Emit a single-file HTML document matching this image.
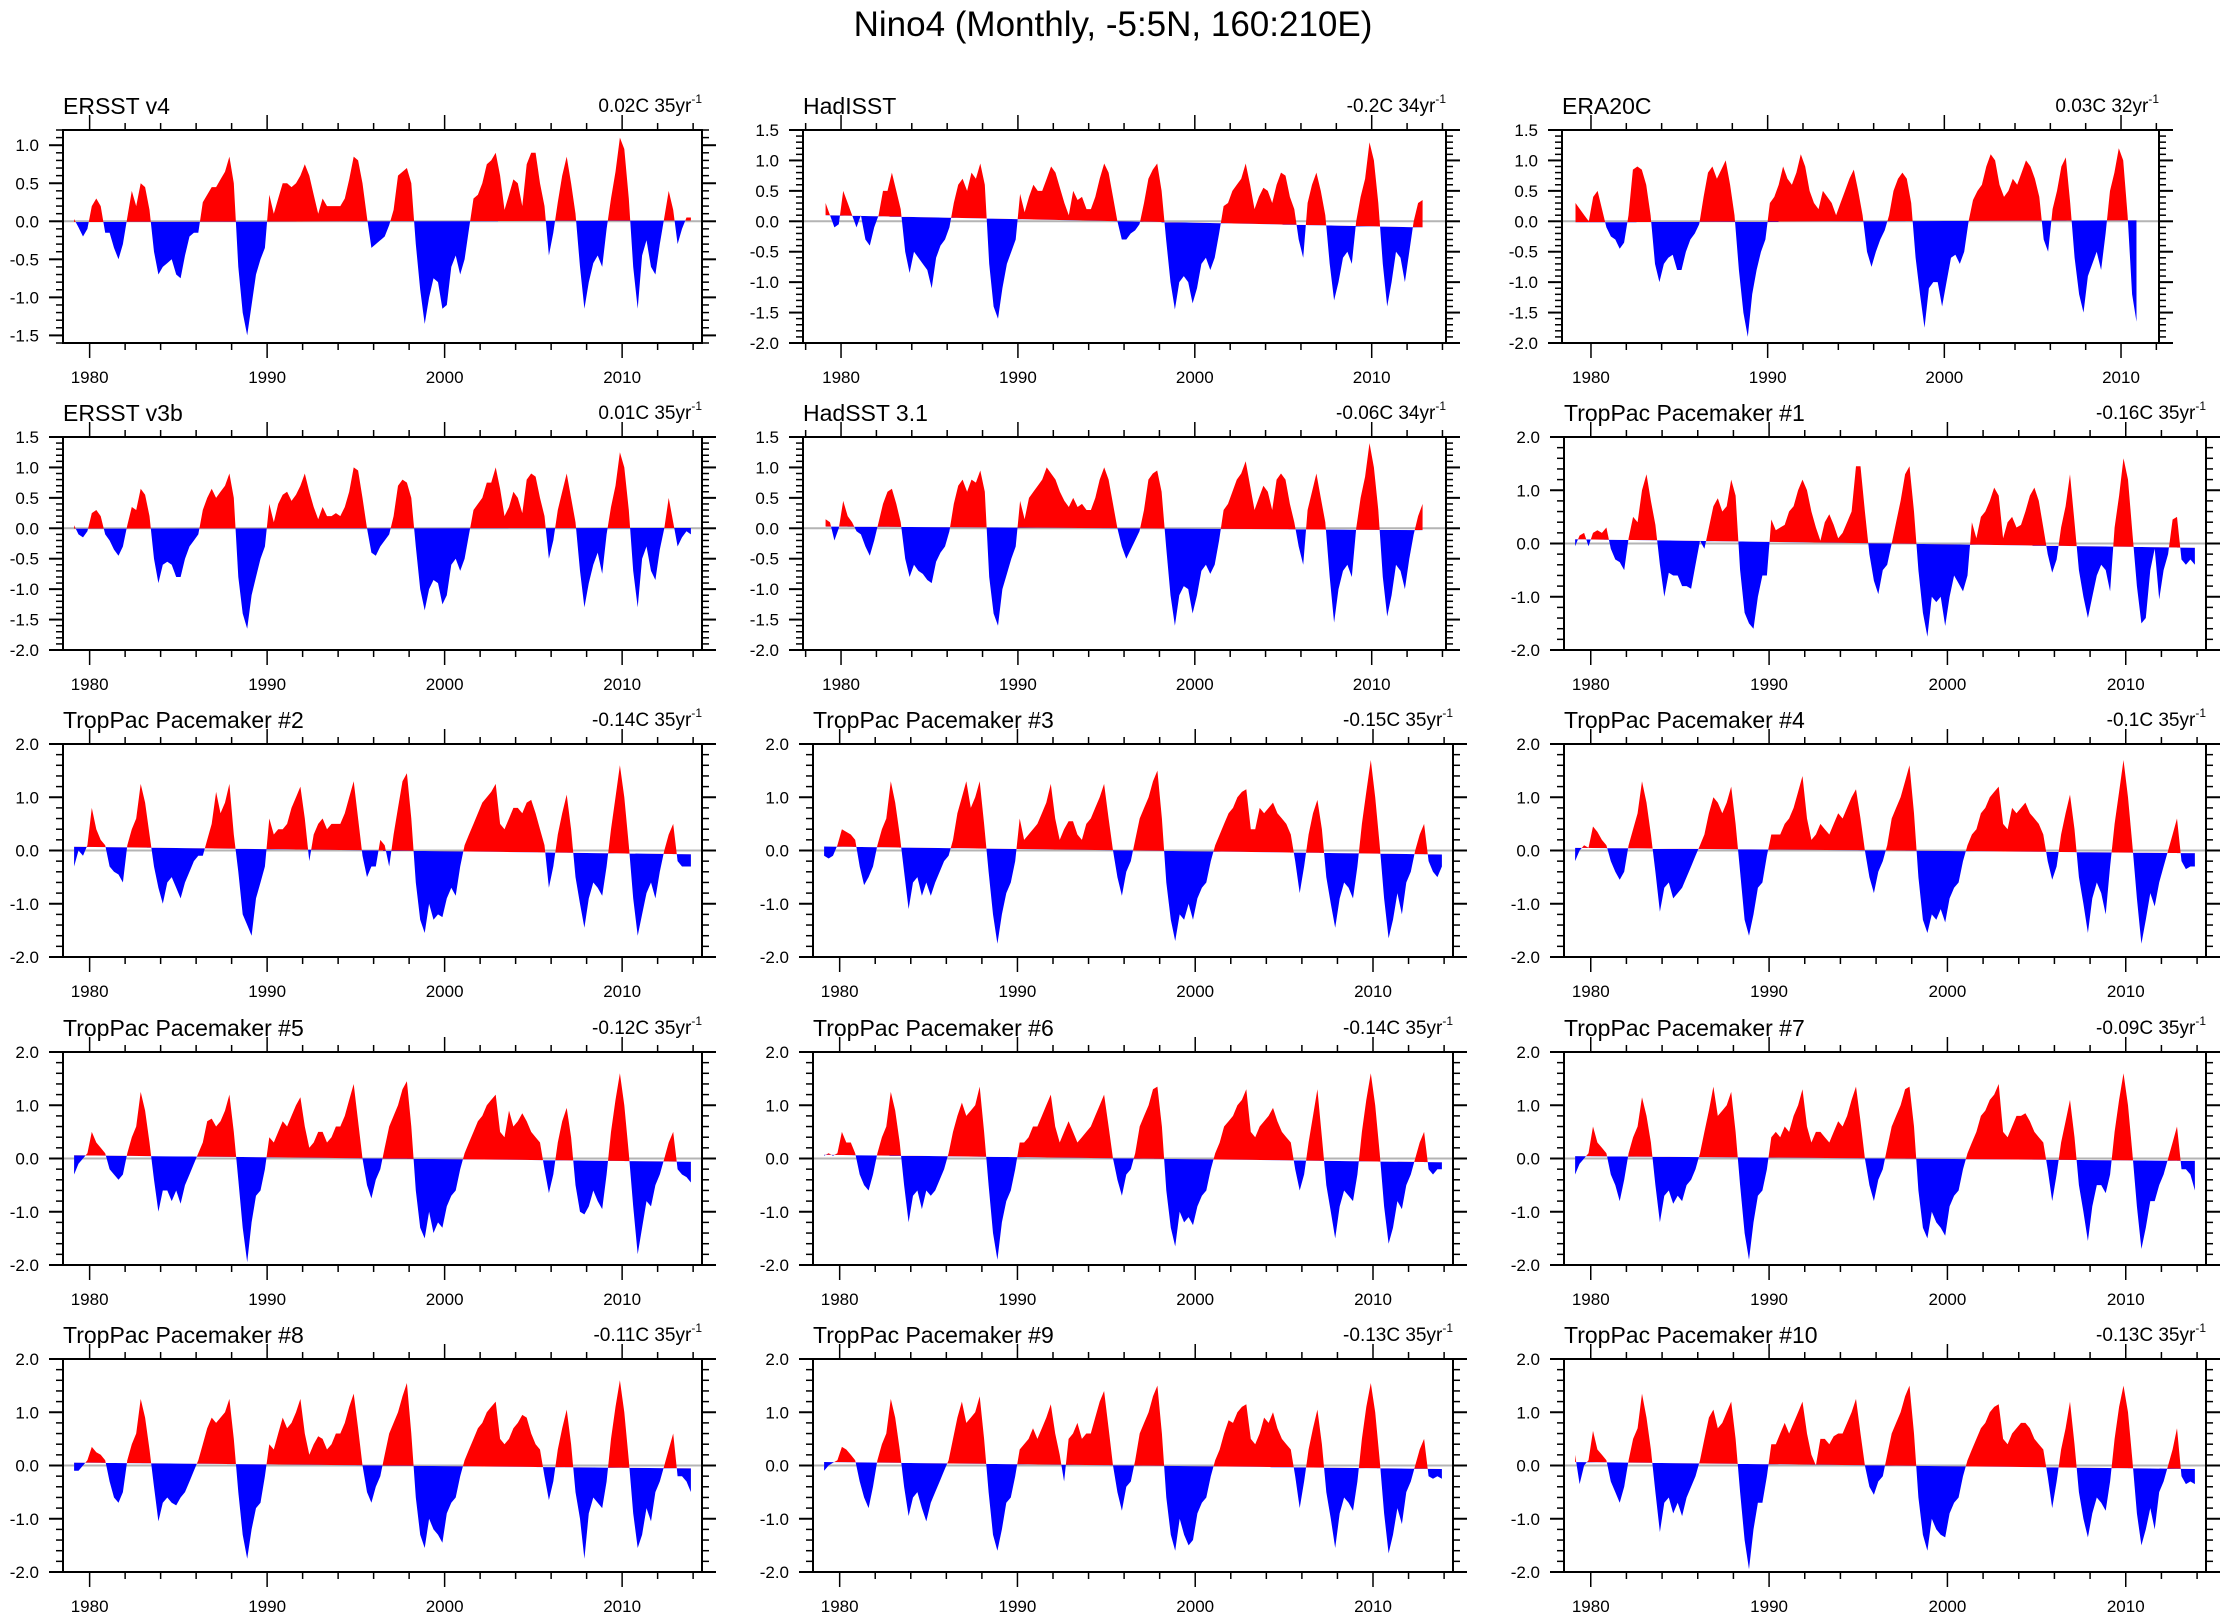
<!DOCTYPE html>
<html><head><meta charset="utf-8"><title>Nino4 Monthly</title>
<style>
html,body{margin:0;padding:0;background:#fff;}
svg{display:block;font-family:"Liberation Sans",Arial,sans-serif;}
</style></head>
<body>
<svg id="fig" width="2226" height="1620" viewBox="0 0 2226 1620" xmlns="http://www.w3.org/2000/svg">
<rect x="0" y="0" width="2226" height="1620" fill="#fff"/>
<text x="1113" y="36" font-size="35" text-anchor="middle" fill="#000">Nino4 (Monthly, -5:5N, 160:210E)</text>
</svg>
<script>
// ---- data (quarterly estimates) ----
const ersstV4 = [0.03,-0.08,-0.2,-0.1, 0.2,0.3,0.2,-0.15, -0.15,-0.35,-0.5,-0.3, 0.05,0.4,0.2,0.5, 0.45,0.15,-0.4,-0.7, -0.6,-0.55,-0.5,-0.7, -0.75,-0.45,-0.2,-0.15, -0.15,0.25,0.35,0.45, 0.45,0.55,0.65,0.85, 0.5,-0.6,-1.2,-1.5, -1.1,-0.7,-0.5,-0.35, 0.35,0.1,0.3,0.5, 0.5,0.45,0.5,0.6, 0.75,0.6,0.35,0.1, 0.3,0.2,0.2,0.2, 0.2,0.3,0.55,0.85, 0.8,0.5,0.05,-0.35, -0.3,-0.25,-0.2,-0.05, 0.15,0.6,0.65,0.7, 0.5,-0.3,-0.9,-1.35, -1.0,-0.75,-0.8,-1.15, -1.1,-0.6,-0.45,-0.7, -0.5,-0.1,0.3,0.35, 0.5,0.75,0.8,0.9, 0.6,0.15,0.35,0.55, 0.5,0.2,0.75,0.9, 0.9,0.5,0.2,-0.45, -0.15,0.25,0.6,0.85, 0.5,0.1,-0.6,-1.15, -0.8,-0.55,-0.45,-0.6, -0.1,0.3,0.65,1.1, 0.95,0.3,-0.6,-1.15, -0.45,-0.25,-0.6,-0.7, -0.3,0.05,0.4,0.15, -0.3,-0.1,0.05,0.05];
const hadisst = [0.3,0.1,-0.1,-0.05, 0.5,0.3,0.1,-0.1, 0.1,-0.3,-0.4,-0.1, 0.1,0.5,0.5,0.8, 0.5,0.2,-0.5,-0.85, -0.5,-0.6,-0.7,-0.8, -1.1,-0.6,-0.4,-0.3, -0.1,0.3,0.6,0.7, 0.5,0.8,0.7,0.95, 0.6,-0.7,-1.4,-1.6, -1.1,-0.7,-0.5,-0.3, 0.45,0.15,0.4,0.6, 0.5,0.5,0.7,0.9, 0.8,0.55,0.3,0.1, 0.5,0.35,0.4,0.2, 0.2,0.4,0.7,0.95, 0.8,0.4,0.0,-0.3, -0.3,-0.2,-0.15,-0.05, 0.3,0.7,0.85,0.95, 0.5,-0.3,-1.0,-1.45, -1.0,-0.9,-1.0,-1.35, -1.1,-0.7,-0.6,-0.8, -0.6,-0.2,0.25,0.3, 0.5,0.6,0.7,0.95, 0.6,0.2,0.4,0.55, 0.5,0.3,0.6,0.8, 0.75,0.4,0.2,-0.3, -0.6,0.3,0.6,0.8, 0.5,0.1,-0.7,-1.3, -1.0,-0.6,-0.5,-0.7, 0.0,0.4,0.7,1.3, 1.0,0.3,-0.7,-1.4, -1.0,-0.5,-0.6,-1.0, -0.5,0.0,0.3,0.35];
const era20c = [0.3,0.2,0.1,0.0, 0.4,0.5,0.2,-0.1, -0.25,-0.3,-0.45,-0.35, 0.1,0.85,0.9,0.85, 0.6,0.1,-0.7,-1.0, -0.7,-0.6,-0.55,-0.8, -0.8,-0.5,-0.3,-0.2, -0.05,0.4,0.8,0.9, 0.7,0.85,1.0,0.6, 0.1,-0.8,-1.5,-1.9, -1.2,-0.8,-0.5,-0.3, 0.3,0.4,0.6,0.9, 0.7,0.6,0.8,1.1, 0.9,0.5,0.3,0.2, 0.5,0.4,0.3,0.1, 0.3,0.5,0.7,0.85, 0.5,0.1,-0.5,-0.75, -0.5,-0.3,-0.15,0.1, 0.5,0.7,0.8,0.7, 0.3,-0.6,-1.2,-1.75, -1.1,-1.0,-1.0,-1.4, -1.0,-0.6,-0.55,-0.7, -0.5,0.0,0.35,0.5, 0.6,0.9,1.1,1.0, 0.6,0.4,0.5,0.7, 0.6,0.8,1.0,0.9, 0.7,0.4,-0.3,-0.5, 0.2,0.5,0.9,1.05, 0.3,-0.6,-1.2,-1.5, -0.9,-0.7,-0.5,-0.8, -0.2,0.5,0.8,1.2, 1.0,0.1,-1.2,-1.65];
const ersstV3b = [0.05,-0.1,-0.15,-0.05, 0.25,0.3,0.2,-0.1, -0.2,-0.35,-0.45,-0.3, 0.05,0.35,0.3,0.65, 0.55,0.2,-0.5,-0.9, -0.6,-0.55,-0.6,-0.8, -0.8,-0.5,-0.3,-0.2, -0.1,0.3,0.5,0.65, 0.5,0.6,0.7,0.9, 0.5,-0.8,-1.4,-1.65, -1.1,-0.8,-0.5,-0.3, 0.4,0.1,0.4,0.55, 0.6,0.45,0.55,0.7, 0.9,0.6,0.35,0.15, 0.35,0.2,0.2,0.25, 0.2,0.35,0.6,1.0, 0.95,0.5,0.0,-0.4, -0.45,-0.3,-0.2,-0.1, 0.2,0.7,0.8,0.75, 0.5,-0.3,-1.0,-1.35, -1.0,-0.85,-0.9,-1.25, -1.1,-0.6,-0.5,-0.7, -0.5,-0.1,0.3,0.4, 0.5,0.75,0.75,1.0, 0.65,0.2,0.35,0.6, 0.5,0.25,0.8,0.9, 0.85,0.5,0.2,-0.5, -0.2,0.3,0.6,0.9, 0.5,0.1,-0.7,-1.3, -0.9,-0.6,-0.4,-0.75, -0.1,0.35,0.7,1.25, 1.0,0.3,-0.7,-1.3, -0.5,-0.3,-0.7,-0.85, -0.35,0.0,0.5,0.1, -0.3,-0.15,-0.05,-0.1];
const hadsst = [0.15,0.1,-0.2,0.0, 0.45,0.2,0.1,-0.05, -0.1,-0.3,-0.45,-0.2, 0.1,0.4,0.6,0.65, 0.4,0.1,-0.5,-0.8, -0.6,-0.7,-0.75,-0.85, -0.9,-0.55,-0.4,-0.3, -0.05,0.4,0.7,0.8, 0.6,0.8,0.75,0.95, 0.6,-0.8,-1.4,-1.6, -1.0,-0.75,-0.5,-0.3, 0.45,0.15,0.5,0.6, 0.7,0.8,1.0,0.9, 0.8,0.6,0.45,0.35, 0.5,0.35,0.4,0.3, 0.3,0.5,0.8,1.0, 0.8,0.4,0.0,-0.3, -0.5,-0.35,-0.2,-0.05, 0.3,0.8,0.9,0.95, 0.6,-0.3,-1.1,-1.6, -1.1,-0.95,-1.0,-1.4, -1.1,-0.7,-0.6,-0.75, -0.6,-0.2,0.3,0.4, 0.6,0.8,0.9,1.1, 0.7,0.3,0.5,0.7, 0.6,0.3,0.8,0.9, 0.8,0.4,0.1,-0.3, -0.6,0.3,0.6,0.9, 0.5,0.1,-0.8,-1.55, -1.0,-0.7,-0.6,-0.8, 0.0,0.5,0.85,1.4, 1.0,0.3,-0.8,-1.45, -1.1,-0.6,-0.7,-1.0, -0.5,-0.1,0.2,0.4];
const pace1 = [-0.05,0.15,0.2,-0.05, 0.2,0.25,0.2,0.3, -0.1,-0.3,-0.35,-0.5, 0.1,0.5,0.4,1.0, 1.3,0.8,0.35,-0.4, -1.0,-0.55,-0.6,-0.6, -0.8,-0.8,-0.85,-0.4, 0.05,-0.1,0.3,0.7, 0.85,0.6,0.7,1.2, 0.9,-0.5,-1.3,-1.5, -1.6,-1.0,-0.6,-0.6, 0.45,0.25,0.3,0.35, 0.6,0.7,1.0,1.2, 1.0,0.6,0.3,0.05, 0.4,0.55,0.35,0.1, 0.2,0.4,0.6,1.45, 1.45,0.6,-0.2,-0.7, -0.95,-0.5,-0.4,0.0, 0.4,0.8,1.3,1.45, 0.6,-0.5,-1.3,-1.75, -1.0,-1.1,-1.0,-1.55, -1.0,-0.6,-0.75,-0.9, -0.6,0.4,0.1,0.5, 0.6,0.8,1.05,0.9, 0.1,0.4,0.5,0.3, 0.35,0.6,0.9,1.05, 0.8,0.3,-0.2,-0.55, -0.3,0.3,0.7,1.3, 0.4,-0.5,-1.0,-1.4, -1.0,-0.6,-0.4,-0.5, -0.9,0.3,0.9,1.6, 1.2,0.2,-0.8,-1.5, -1.4,-0.5,-0.1,-1.05, -0.5,-0.2,0.45,0.5, -0.3,-0.4,-0.3,-0.4];
const pace2 = [-0.3,0.0,-0.1,0.1, 0.8,0.4,0.2,0.1, -0.3,-0.4,-0.45,-0.6, 0.1,0.4,0.6,1.25, 0.9,0.3,-0.3,-0.7, -1.0,-0.6,-0.5,-0.7, -0.9,-0.6,-0.4,-0.2, -0.1,-0.1,0.2,0.5, 1.1,0.7,0.9,1.25, 0.3,-0.4,-1.2,-1.4, -1.6,-0.9,-0.6,-0.3, 0.6,0.3,0.4,0.4, 0.5,0.8,1.0,1.2, 0.6,-0.2,0.3,0.5, 0.6,0.4,0.5,0.5, 0.5,0.7,1.0,1.3, 0.6,-0.1,-0.5,-0.3, -0.3,0.2,0.1,-0.3, 0.3,0.8,1.3,1.45, 0.6,-0.6,-1.3,-1.55, -1.0,-1.3,-1.2,-1.25, -0.9,-0.7,-0.85,-0.3, 0.1,0.3,0.5,0.7, 0.9,1.0,1.1,1.25, 0.5,0.4,0.6,0.8, 0.8,0.7,0.9,0.95, 0.7,0.4,0.1,-0.7, -0.3,0.3,0.7,1.05, 0.4,-0.5,-1.0,-1.45, -0.9,-0.6,-0.7,-0.85, -0.3,0.4,1.0,1.6, 1.0,0.1,-0.9,-1.6, -1.2,-0.8,-0.6,-0.9, -0.4,0.0,0.3,0.5, -0.2,-0.3,-0.3,-0.3];
const pace3 = [-0.1,-0.15,-0.1,0.1, 0.4,0.35,0.3,0.2, -0.3,-0.65,-0.5,-0.3, 0.1,0.4,0.6,1.3, 0.9,0.3,-0.4,-1.1, -0.6,-0.5,-0.85,-0.6, -0.85,-0.6,-0.4,-0.2, -0.1,0.2,0.7,1.0, 1.3,0.8,1.0,1.3, 0.5,-0.4,-1.2,-1.75, -1.2,-0.8,-0.6,-0.2, 0.6,0.2,0.3,0.4, 0.5,0.7,0.9,1.25, 0.6,0.2,0.4,0.55, 0.55,0.3,0.2,0.5, 0.6,0.8,1.0,1.25, 0.6,0.0,-0.5,-0.85, -0.4,-0.2,0.2,0.6, 0.8,1.0,1.3,1.5, 0.6,-0.6,-1.3,-1.7, -1.2,-1.3,-1.0,-1.3, -0.9,-0.7,-0.6,-0.2, 0.1,0.3,0.5,0.7, 0.8,1.0,1.1,1.15, 0.4,0.4,0.8,0.7, 0.8,0.9,0.7,0.6, 0.5,0.3,-0.2,-0.8, -0.3,0.3,0.7,0.95, 0.4,-0.5,-1.0,-1.45, -0.9,-0.6,-0.7,-0.9, -0.3,0.5,1.1,1.7, 1.0,0.1,-0.9,-1.65, -1.3,-0.8,-1.2,-0.6, -0.4,0.0,0.3,0.5, -0.2,-0.4,-0.5,-0.3];
const pace4 = [-0.2,0.0,0.1,0.05, 0.45,0.35,0.2,0.1, -0.2,-0.4,-0.55,-0.4, 0.1,0.4,0.7,1.3, 0.9,0.3,-0.4,-1.15, -0.7,-0.6,-0.9,-0.8, -0.7,-0.5,-0.3,-0.1, 0.1,0.3,0.7,1.0, 0.9,0.7,0.9,1.2, 0.5,-0.4,-1.3,-1.6, -1.2,-0.7,-0.6,-0.1, 0.3,0.3,0.3,0.5, 0.6,0.8,1.1,1.4, 0.6,0.2,0.3,0.5, 0.4,0.3,0.5,0.7, 0.6,0.8,1.0,1.15, 0.6,0.0,-0.5,-0.8, -0.4,-0.2,0.1,0.6, 0.8,1.0,1.3,1.6, 0.7,-0.5,-1.3,-1.55, -1.2,-1.3,-1.1,-1.35, -0.9,-0.7,-0.6,-0.2, 0.1,0.3,0.4,0.7, 0.8,1.0,1.1,1.2, 0.5,0.4,0.8,0.7, 0.8,0.9,0.7,0.6, 0.5,0.3,-0.2,-0.55, -0.3,0.3,0.7,1.05, 0.4,-0.5,-1.0,-1.55, -0.9,-0.6,-0.8,-1.2, -0.3,0.5,1.1,1.7, 1.0,0.1,-0.9,-1.75, -1.3,-0.8,-1.05,-0.6, -0.3,0.0,0.3,0.6, -0.2,-0.35,-0.3,-0.3];
const pace5 = [-0.3,-0.1,0.0,0.1, 0.5,0.3,0.2,0.1, -0.2,-0.3,-0.4,-0.3, 0.1,0.4,0.6,1.25, 0.9,0.3,-0.4,-1.0, -0.6,-0.6,-0.8,-0.6, -0.85,-0.5,-0.3,-0.1, 0.1,0.3,0.7,0.75, 0.6,0.7,0.9,1.2, 0.5,-0.4,-1.3,-1.95, -1.2,-0.7,-0.6,-0.2, 0.4,0.3,0.5,0.7, 0.6,0.8,1.0,1.15, 0.6,0.2,0.3,0.5, 0.5,0.3,0.4,0.6, 0.6,0.8,1.1,1.4, 0.7,0.0,-0.5,-0.75, -0.4,-0.2,0.2,0.6, 0.8,1.0,1.3,1.45, 0.6,-0.6,-1.3,-1.5, -1.0,-1.4,-1.2,-1.3, -0.9,-0.7,-0.6,-0.2, 0.1,0.3,0.5,0.7, 0.8,1.0,1.1,1.2, 0.5,0.4,0.9,0.6, 0.7,0.85,0.7,0.5, 0.4,0.3,-0.2,-0.65, -0.3,0.3,0.7,0.95, 0.4,-0.5,-1.0,-1.05, -0.9,-0.6,-0.8,-0.95, -0.3,0.5,1.1,1.6, 1.0,0.1,-0.9,-1.8, -1.3,-0.8,-0.9,-0.5, -0.3,0.0,0.3,0.5, -0.2,-0.3,-0.35,-0.45];
const pace6 = [0.05,0.1,0.05,0.1, 0.5,0.3,0.3,0.1, -0.3,-0.5,-0.6,-0.3, 0.1,0.4,0.6,1.25, 0.9,0.3,-0.5,-1.2, -0.7,-0.6,-0.95,-0.6, -0.7,-0.6,-0.4,-0.2, 0.1,0.5,0.8,1.05, 0.8,0.9,1.0,1.35, 0.5,-0.5,-1.4,-1.9, -1.2,-0.8,-0.6,-0.2, 0.3,0.3,0.4,0.6, 0.6,0.8,1.0,1.2, 0.6,0.3,0.5,0.7, 0.5,0.3,0.4,0.5, 0.6,0.8,1.0,1.2, 0.6,0.0,-0.4,-0.7, -0.3,-0.2,0.1,0.6, 0.8,1.0,1.3,1.35, 0.6,-0.6,-1.3,-1.65, -1.0,-1.2,-1.1,-1.25, -0.9,-0.7,-0.6,-0.2, 0.1,0.3,0.6,0.7, 0.8,1.0,1.1,1.3, 0.5,0.4,0.6,0.7, 0.8,0.95,0.7,0.5, 0.4,0.3,-0.2,-0.6, -0.3,0.3,0.8,1.3, 0.4,-0.5,-1.0,-1.5, -0.9,-0.6,-0.7,-0.8, -0.3,0.5,1.1,1.6, 1.0,0.1,-0.9,-1.6, -1.3,-0.8,-0.95,-0.5, -0.3,0.0,0.3,0.5, -0.2,-0.3,-0.2,-0.2];
const pace7 = [-0.3,-0.1,0.0,0.1, 0.6,0.3,0.2,0.1, -0.3,-0.5,-0.8,-0.4, 0.1,0.4,0.6,1.15, 0.8,0.3,-0.5,-1.2, -0.7,-0.6,-0.85,-0.7, -0.8,-0.5,-0.4,-0.2, 0.1,0.5,0.9,1.35, 0.8,0.9,1.0,1.25, 0.5,-0.5,-1.4,-1.9, -1.2,-0.7,-0.6,-0.2, 0.4,0.5,0.4,0.6, 0.5,0.8,1.0,1.3, 0.6,0.3,0.5,0.5, 0.4,0.3,0.5,0.7, 0.6,0.8,1.1,1.35, 0.7,0.0,-0.5,-0.8, -0.4,-0.2,0.2,0.6, 0.8,1.0,1.3,1.35, 0.6,-0.6,-1.3,-1.5, -1.0,-1.2,-1.3,-1.45, -0.9,-0.7,-0.6,-0.2, 0.1,0.3,0.5,0.8, 0.9,1.1,1.2,1.4, 0.5,0.4,0.6,0.8, 0.8,0.85,0.7,0.5, 0.4,0.3,-0.2,-0.8, -0.3,0.3,0.7,1.1, 0.4,-0.5,-1.0,-1.55, -0.9,-0.5,-0.5,-0.65, -0.3,0.5,1.1,1.6, 1.0,0.1,-0.9,-1.7, -1.3,-0.8,-0.8,-0.5, -0.3,0.0,0.3,0.6, -0.2,-0.2,-0.3,-0.6];
const pace8 = [-0.1,-0.1,0.0,0.1, 0.35,0.25,0.2,0.1, -0.3,-0.6,-0.7,-0.5, 0.1,0.4,0.6,1.25, 0.9,0.3,-0.4,-1.05, -0.7,-0.6,-0.7,-0.75, -0.6,-0.5,-0.3,-0.1, 0.1,0.4,0.7,0.9, 0.8,0.9,1.0,1.25, 0.5,-0.5,-1.3,-1.75, -1.2,-0.8,-0.7,-0.2, 0.4,0.3,0.6,0.9, 0.7,0.8,1.0,1.25, 0.6,0.2,0.4,0.55, 0.5,0.3,0.4,0.6, 0.6,0.8,1.1,1.35, 0.7,0.0,-0.5,-0.7, -0.4,-0.2,0.2,0.6, 0.8,1.0,1.3,1.55, 0.6,-0.6,-1.3,-1.55, -1.0,-1.2,-1.3,-1.45, -0.9,-0.7,-0.6,-0.2, 0.1,0.3,0.5,0.7, 0.8,1.0,1.1,1.2, 0.5,0.4,0.5,0.7, 0.8,0.95,0.9,0.6, 0.4,0.3,-0.2,-0.65, -0.3,0.3,0.7,1.05, 0.4,-0.5,-1.0,-1.75, -0.9,-0.6,-0.7,-0.8, -0.3,0.5,1.1,1.6, 1.0,0.1,-0.9,-1.55, -1.3,-0.8,-1.05,-0.5, -0.3,0.0,0.3,0.6, -0.2,-0.2,-0.3,-0.5];
const pace9 = [-0.1,0.0,0.05,0.1, 0.35,0.3,0.2,0.1, -0.3,-0.6,-0.8,-0.4, 0.1,0.4,0.6,1.25, 0.9,0.3,-0.4,-0.95, -0.6,-0.5,-0.8,-1.05, -0.7,-0.5,-0.3,-0.1, 0.1,0.5,0.9,1.2, 0.8,0.9,1.0,1.3, 0.5,-0.5,-1.3,-1.6, -1.2,-0.7,-0.6,-0.2, 0.3,0.4,0.5,0.7, 0.5,0.7,0.9,1.15, 0.6,0.2,-0.3,0.5, 0.6,0.8,0.5,0.6, 0.6,0.9,1.2,1.4, 0.7,0.0,-0.5,-0.85, -0.4,-0.3,0.1,0.6, 0.8,1.0,1.3,1.5, 0.6,-0.6,-1.3,-1.6, -1.0,-1.3,-1.5,-1.4, -0.9,-0.7,-0.6,-0.2, 0.1,0.3,0.6,0.85, 0.8,1.0,1.1,1.15, 0.5,0.4,0.6,0.9, 0.8,1.0,0.7,0.5, 0.4,0.3,-0.2,-0.8, -0.3,0.3,0.7,1.05, 0.4,-0.5,-1.0,-1.55, -0.9,-0.6,-0.7,-0.85, -0.3,0.5,1.1,1.55, 1.0,0.1,-0.9,-1.65, -1.3,-0.8,-1.1,-0.5, -0.3,0.0,0.3,0.5, -0.2,-0.25,-0.2,-0.25];
const pace10 = [0.2,-0.35,0.0,0.1, 0.65,0.3,0.2,0.1, -0.3,-0.5,-0.7,-0.4, 0.1,0.5,0.7,1.35, 0.9,0.3,-0.5,-1.25, -0.7,-0.6,-0.9,-0.7, -0.95,-0.6,-0.4,-0.2, 0.1,0.5,0.9,1.05, 0.7,0.8,1.0,1.2, 0.5,-0.5,-1.4,-1.95, -1.2,-0.7,-0.7,-0.2, 0.4,0.4,0.6,0.8, 0.6,0.8,1.0,1.2, 0.6,0.2,0.0,0.5, 0.5,0.4,0.55,0.6, 0.6,0.8,1.0,1.25, 0.6,0.0,-0.4,-0.55, -0.3,-0.2,0.2,0.6, 0.8,1.0,1.3,1.5, 0.6,-0.6,-1.3,-1.6, -1.0,-1.2,-1.3,-1.35, -0.9,-0.7,-0.6,-0.2, 0.1,0.3,0.5,0.7, 0.8,1.0,1.1,1.15, 0.5,0.4,0.6,0.7, 0.8,0.8,0.7,0.5, 0.4,0.3,-0.2,-0.8, -0.3,0.3,0.7,1.2, 0.4,-0.5,-1.0,-1.35, -0.9,-0.6,-0.7,-0.85, -0.3,0.5,1.1,1.5, 1.0,0.1,-0.9,-1.5, -1.2,-0.8,-1.2,-0.5, -0.3,0.0,0.3,0.7, -0.2,-0.35,-0.3,-0.35];

const panelTitles = ["ERSST v4","HadISST","ERA20C","ERSST v3b","HadSST 3.1","TropPac Pacemaker #1","TropPac Pacemaker #2","TropPac Pacemaker #3","TropPac Pacemaker #4","TropPac Pacemaker #5","TropPac Pacemaker #6","TropPac Pacemaker #7","TropPac Pacemaker #8","TropPac Pacemaker #9","TropPac Pacemaker #10"];
const trendValues = [0.02,-0.2,0.03,0.01,-0.06,-0.16,-0.14,-0.15,-0.1,-0.12,-0.14,-0.09,-0.11,-0.13,-0.13];
const trendYears = [35,34,32,35,34,35,35,35,35,35,35,35,35,35,35];
const trendLabels = ["0.02C","-0.2C","0.03C","0.01C","-0.06C","-0.16C","-0.14C","-0.15C","-0.1C","-0.12C","-0.14C","-0.09C","-0.11C","-0.13C","-0.13C"];
const seriesList = [ersstV4,hadisst,era20c,ersstV3b,hadsst,pace1,pace2,pace3,pace4,pace5,pace6,pace7,pace8,pace9,pace10];
const xTickYears = [1980,1990,2000,2010];

// ---- layout (not data) ----
const NS = "http://www.w3.org/2000/svg";
const svg = document.getElementById('fig');
const rowTops = [130,437,744,1052,1359];
const PH = 213;
function layout(i){
  const r = Math.floor(i/3), c = i%3;
  let x0 = [63,813,1564][c], x1 = [702,1453,2206][c], t0 = 1978.5, t1 = 2014.5;
  if (i===1 || i===4){ x0 = 803; x1 = 1446; t0 = 1977.85; t1 = 2014.2; }
  if (i===2){ x0 = 1562; x1 = 2159; t0 = 1978.36; t1 = 2012.15; }
  let ymin = -2, ymax = 1.5, major = 0.5, minor = 0.1;
  if (i===0){ ymin = -1.6; ymax = 1.2; }
  if (i>=5){ ymin = -2; ymax = 2; major = 1.0; minor = 0.2; }
  return {x0,x1,y0:rowTops[r],y1:rowTops[r]+PH,t0,t1,ymin,ymax,major,minor};
}
function mk(tag, attrs, parent){
  const e = document.createElementNS(NS, tag);
  for (const k in attrs) e.setAttribute(k, attrs[k]);
  (parent||svg).appendChild(e);
  return e;
}

for (let i=0;i<15;i++){
  const L = layout(i);
  const data = seriesList[i];
  const xs = t => L.x0 + (t - L.t0)/(L.t1 - L.t0)*(L.x1 - L.x0);
  const ys = v => L.y1 - (v - L.ymin)/(L.ymax - L.ymin)*(L.y1 - L.y0);
  const g = mk('g', {});
  
  

  const tStart = 1979 + 0.125, tEnd = 1979 + (data.length-1)/4 + 0.125;
  const tr = trendValues[i];
  const base = t => (-tr/2) + tr*(t - tStart)/(tEnd - tStart);

  const zl = mk('line', {x1:L.x0, x2:L.x1, y1:ys(0), y2:ys(0), stroke:'#b4b4b4', 'stroke-width':2}, g);
  
  

  const defs = mk('defs', {}, g);
  const cpA = mk('clipPath', {id:'above'+i}, defs);
  mk('polygon', {points:`${L.x0},${L.y0-5} ${L.x1},${L.y0-5} ${L.x1},${ys(base(L.t1))} ${L.x0},${ys(base(L.t0))}`}, cpA);
  const cpB = mk('clipPath', {id:'below'+i}, defs);
  mk('polygon', {points:`${L.x0},${L.y1+5} ${L.x1},${L.y1+5} ${L.x1},${ys(base(L.t1))} ${L.x0},${ys(base(L.t0))}`}, cpB);

  let pts = `${xs(tStart)},${ys(base(tStart))} `;
  data.forEach((v,k)=>{ const t = 1979 + k/4 + 0.125; pts += `${xs(t).toFixed(1)},${ys(v).toFixed(1)} `; });
  pts += `${xs(tEnd)},${ys(base(tEnd))}`;
  const red = mk('polygon', {points:pts, fill:'#ff0000', 'clip-path':`url(#above${i})`}, g);
  
  
  const blue = mk('polygon', {points:pts, fill:'#0000ff', 'clip-path':`url(#below${i})`}, g);
  
  

  const fr = mk('rect', {x:L.x0, y:L.y0, width:L.x1-L.x0, height:PH, fill:'none', stroke:'#000', 'stroke-width':2}, g);
  
  

  const nMin = Math.round((L.ymax - L.ymin)/L.minor);
  for (let k=0;k<=nMin;k++){
    const v = L.ymin + k*L.minor;
    const isMaj = Math.abs(v/L.major - Math.round(v/L.major)) < 1e-6;
    const len = isMaj ? 14 : 7;
    const y = ys(v);
    mk('line', {x1:L.x0-len, x2:L.x0, y1:y, y2:y, stroke:'#000', 'stroke-width':isMaj?2:1.5}, g);
    mk('line', {x1:L.x1, x2:L.x1+len, y1:y, y2:y, stroke:'#000', 'stroke-width':isMaj?2:1.5}, g);
    if (isMaj){
      const lb = mk('text', {x:L.x0-24, y:y+6, 'font-size':17, 'text-anchor':'end', fill:'#000'}, g);
      lb.textContent = (Math.abs(v)<1e-9?0:v).toFixed(1);
      
      
    }
  }
  for (let yr = Math.ceil(L.t0/2)*2; yr <= L.t1; yr += 2){
    const isMaj = yr % 10 === 0;
    const len = isMaj ? 15 : 7;
    const x = xs(yr);
    mk('line', {x1:x, x2:x, y1:L.y0-len, y2:L.y0, stroke:'#000', 'stroke-width':1.5}, g);
    mk('line', {x1:x, x2:x, y1:L.y1, y2:L.y1+len, stroke:'#000', 'stroke-width':1.5}, g);
  }
  xTickYears.forEach(yr=>{
    const lb = mk('text', {x:xs(yr), y:L.y1+40, 'font-size':17, 'text-anchor':'middle', fill:'#000'}, g);
    lb.textContent = String(yr);
    
    
  });

  const tt = mk('text', {x:L.x0, y:L.y0-16, 'font-size':23, fill:'#000'}, g);
  tt.textContent = panelTitles[i];
  
  
  const rt = mk('text', {x:L.x1, y:L.y0-18, 'font-size':19, 'text-anchor':'end', fill:'#000'}, g);
  
  
  const s1 = mk('tspan', {}, rt); s1.textContent = trendLabels[i] + ' ' + trendYears[i] + 'yr';
  const s2 = mk('tspan', {'font-size':12, dy:-9}, rt); s2.textContent = '-1';
}
</script>
</body></html>
